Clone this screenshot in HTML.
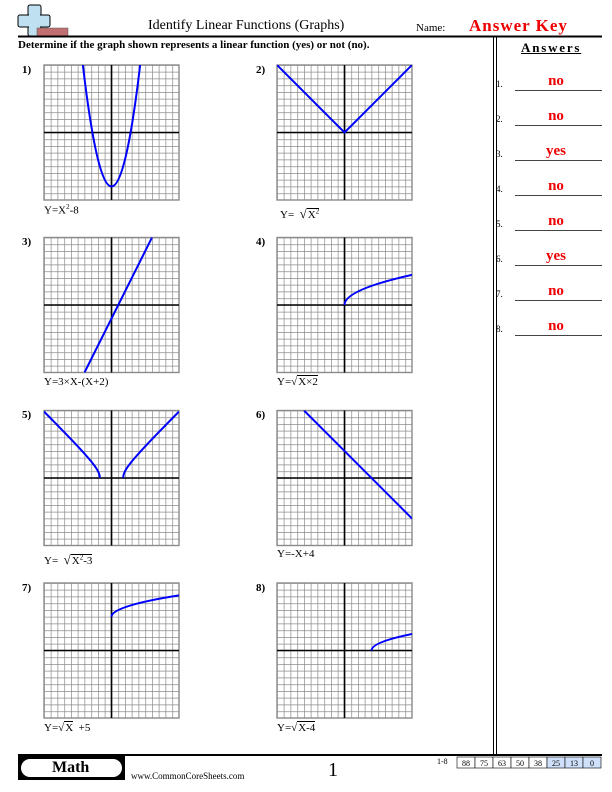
<!DOCTYPE html>
<html><head><meta charset="utf-8"><style>
*{margin:0;padding:0}
body{width:612px;height:792px;position:relative;background:#fff;font-family:"Liberation Serif",serif;overflow:hidden}
.a{position:absolute;white-space:nowrap}
.lab{font-size:11px}
.num{font-size:11px;font-weight:bold}
.sq{border-top:1px solid #000;padding-left:1px}
.ans{position:absolute;left:556px;transform:translateX(-50%);color:#e00;font-weight:bold;font-size:15px}
.an{position:absolute;left:496px;font-size:9px}
.al{position:absolute;left:515px;width:87px;height:0;border-top:1.5px solid #444}
</style></head><body>
<svg width="612" height="792" style="position:absolute;left:0;top:0">
<defs>
<pattern id="g" width="6.75" height="6.75" patternUnits="userSpaceOnUse">
<path d="M0 0V6.75M0 0H6.75" stroke="#8a8a8a" stroke-width="1.4" fill="none"/>
</pattern>
<clipPath id="c"><rect x="0" y="0" width="135" height="135"/></clipPath>
<g id="grid">
<rect x="0" y="0" width="135" height="135" fill="url(#g)"/>
<rect x="0" y="0" width="135" height="135" fill="none" stroke="#8a8a8a" stroke-width="1.4"/>
<path d="M67.5 0V135M0 67.5H135" stroke="#000" stroke-width="1.6"/>
</g>
</defs>
<rect x="28" y="5" width="13" height="31" rx="2" fill="#bfe0f0" stroke="#000"/>
<rect x="18" y="15" width="32" height="12" rx="2" fill="#bfe0f0" stroke="#000"/>
<rect x="29" y="14" width="11" height="14" fill="#bfe0f0"/>
<rect x="37" y="28" width="31" height="8" fill="#c07070" stroke="#555" stroke-width="0.5"/>
<path d="M18 36.5H602" stroke="#000" stroke-width="2"/>
<path d="M493.5 37V755M496.5 37V755" stroke="#000" stroke-width="1"/>
<path d="M18 755H602" stroke="#000" stroke-width="2"/>
<rect x="18" y="756" width="107" height="24" fill="#000"/>
<rect x="21" y="759" width="101" height="18" rx="9" fill="#fff"/>
<g transform="translate(44,65)"><use href="#grid"/><g clip-path="url(#c)"><g transform="translate(67.5,67.5) scale(6.75,-6.75)">
<path d="M-4.243 10Q0 -26 4.243 10" fill="none" stroke="#00f" stroke-width="2" vector-effect="non-scaling-stroke"/></g></g></g>
<g transform="translate(277,65)"><use href="#grid"/><g clip-path="url(#c)"><g transform="translate(67.5,67.5) scale(6.75,-6.75)">
<path d="M-10 10L0 0L10 10" fill="none" stroke="#00f" stroke-width="2" vector-effect="non-scaling-stroke"/></g></g></g>
<g transform="translate(44,237.5)"><use href="#grid"/><g clip-path="url(#c)"><g transform="translate(67.5,67.5) scale(6.75,-6.75)">
<path d="M-4 -10L6 10" fill="none" stroke="#00f" stroke-width="2" vector-effect="non-scaling-stroke"/></g></g></g>
<g transform="translate(277,237.5)"><use href="#grid"/><g clip-path="url(#c)"><g transform="translate(67.5,67.5) scale(6.75,-6.75)">
<path d="M0 0Q0 2.236 10 4.472" fill="none" stroke="#00f" stroke-width="2" vector-effect="non-scaling-stroke"/></g></g></g>
<g transform="translate(44,410.5)"><use href="#grid"/><g clip-path="url(#c)"><g transform="translate(67.5,67.5) scale(6.75,-6.75)">
<polyline points="1.732,0 1.75,0.25 1.8,0.49 1.9,0.78 2,1 2.25,1.436 2.5,1.803 3,2.449 3.5,3.041 4,3.606 5,4.69 6,5.745 7,6.782 8,7.81 9,8.832 10,9.849" fill="none" stroke="#00f" stroke-width="2" vector-effect="non-scaling-stroke"/>
<polyline points="-1.732,0 -1.75,0.25 -1.8,0.49 -1.9,0.78 -2,1 -2.25,1.436 -2.5,1.803 -3,2.449 -3.5,3.041 -4,3.606 -5,4.69 -6,5.745 -7,6.782 -8,7.81 -9,8.832 -10,9.849" fill="none" stroke="#00f" stroke-width="2" vector-effect="non-scaling-stroke"/></g></g></g>
<g transform="translate(277,410.5)"><use href="#grid"/><g clip-path="url(#c)"><g transform="translate(67.5,67.5) scale(6.75,-6.75)">
<path d="M-6 10L10 -6" fill="none" stroke="#00f" stroke-width="2" vector-effect="non-scaling-stroke"/></g></g></g>
<g transform="translate(44,583)"><use href="#grid"/><g clip-path="url(#c)"><g transform="translate(67.5,67.5) scale(6.75,-6.75)">
<path d="M0 5Q0 6.581 10 8.162" fill="none" stroke="#00f" stroke-width="2" vector-effect="non-scaling-stroke"/></g></g></g>
<g transform="translate(277,583)"><use href="#grid"/><g clip-path="url(#c)"><g transform="translate(67.5,67.5) scale(6.75,-6.75)">
<path d="M4 0Q4 1.2247 10 2.449" fill="none" stroke="#00f" stroke-width="2" vector-effect="non-scaling-stroke"/></g></g></g>
<g font-family="Liberation Serif" font-size="8" text-anchor="middle">
<rect x="457" y="757" width="18" height="11" fill="#fff" stroke="#000" stroke-width="0.6"/><text x="466" y="766">88</text>
<rect x="475" y="757" width="18" height="11" fill="#fff" stroke="#000" stroke-width="0.6"/><text x="484" y="766">75</text>
<rect x="493" y="757" width="18" height="11" fill="#fff" stroke="#000" stroke-width="0.6"/><text x="502" y="766">63</text>
<rect x="511" y="757" width="18" height="11" fill="#fff" stroke="#000" stroke-width="0.6"/><text x="520" y="766">50</text>
<rect x="529" y="757" width="18" height="11" fill="#fff" stroke="#000" stroke-width="0.6"/><text x="538" y="766">38</text>
<rect x="547" y="757" width="18" height="11" fill="#cfe0fa" stroke="#000" stroke-width="0.6"/><text x="556" y="766">25</text>
<rect x="565" y="757" width="18" height="11" fill="#cfe0fa" stroke="#000" stroke-width="0.6"/><text x="574" y="766">13</text>
<rect x="583" y="757" width="18" height="11" fill="#cfe0fa" stroke="#000" stroke-width="0.6"/><text x="592" y="766">0</text>
</g>
</svg>
<div class="a" style="left:148px;top:18px;font-size:14px">Identify Linear Functions (Graphs)</div>
<div class="a" style="left:416px;top:22px;font-size:11px">Name:</div>
<div class="a" style="left:469px;top:16px;font-size:17px;font-weight:bold;color:#e00;letter-spacing:1px">Answer Key</div>
<div class="a" style="left:18px;top:39px;font-size:11px;font-weight:bold">Determine if the graph shown represents a linear function (yes) or not (no).</div>
<div class="a" style="left:521px;top:40px;font-size:13px;font-weight:bold;letter-spacing:1.8px;text-decoration:underline">Answers</div>

<div class="an" style="top:79px">1.</div><div class="al" style="top:90px"></div><div class="ans" style="top:73px">no</div>
<div class="an" style="top:114px">2.</div><div class="al" style="top:125px"></div><div class="ans" style="top:108px">no</div>
<div class="an" style="top:149px">3.</div><div class="al" style="top:160px"></div><div class="ans" style="top:143px">yes</div>
<div class="an" style="top:184px">4.</div><div class="al" style="top:195px"></div><div class="ans" style="top:178px">no</div>
<div class="an" style="top:219px">5.</div><div class="al" style="top:230px"></div><div class="ans" style="top:213px">no</div>
<div class="an" style="top:254px">6.</div><div class="al" style="top:265px"></div><div class="ans" style="top:248px">yes</div>
<div class="an" style="top:289px">7.</div><div class="al" style="top:300px"></div><div class="ans" style="top:283px">no</div>
<div class="an" style="top:324px">8.</div><div class="al" style="top:335px"></div><div class="ans" style="top:318px">no</div>

<div class="a num" style="left:22px;top:64px">1)</div>
<div class="a num" style="left:256px;top:64px">2)</div>
<div class="a num" style="left:22px;top:236px">3)</div>
<div class="a num" style="left:256px;top:236px">4)</div>
<div class="a num" style="left:22px;top:409px">5)</div>
<div class="a num" style="left:256px;top:409px">6)</div>
<div class="a num" style="left:22px;top:582px">7)</div>
<div class="a num" style="left:256px;top:582px">8)</div>

<div class="a lab" style="left:44px;top:203px">Y=X<sup style="font-size:7px">2</sup>-8</div>
<div class="a lab" style="left:280px;top:206px">Y= &nbsp;<span style="font-size:13px">√</span><span class="sq">X<sup style="font-size:7px">2</sup></span></div>
<div class="a lab" style="left:44px;top:376px">Y=3×X-(X+2)</div>
<div class="a lab" style="left:277px;top:376px">Y=√<span class="sq">X×2</span></div>
<div class="a lab" style="left:44px;top:552px">Y= &nbsp;<span style="font-size:13px">√</span><span class="sq">X<sup style="font-size:7px">2</sup>-3</span></div>
<div class="a lab" style="left:277px;top:548px">Y=-X+4</div>
<div class="a lab" style="left:44px;top:722px">Y=√<span class="sq">X</span> &nbsp;+5</div>
<div class="a lab" style="left:277px;top:722px">Y=√<span class="sq">X-4</span></div>

<div class="a" style="left:52px;top:759px;font-size:16px;font-weight:bold">Math</div>
<div class="a" style="left:131px;top:771px;font-size:9px">www.CommonCoreSheets.com</div>
<div class="a" style="left:328px;top:759px;font-size:20px">1</div>
<div class="a" style="left:437px;top:757px;font-size:8px">1-8</div>
</body></html>
